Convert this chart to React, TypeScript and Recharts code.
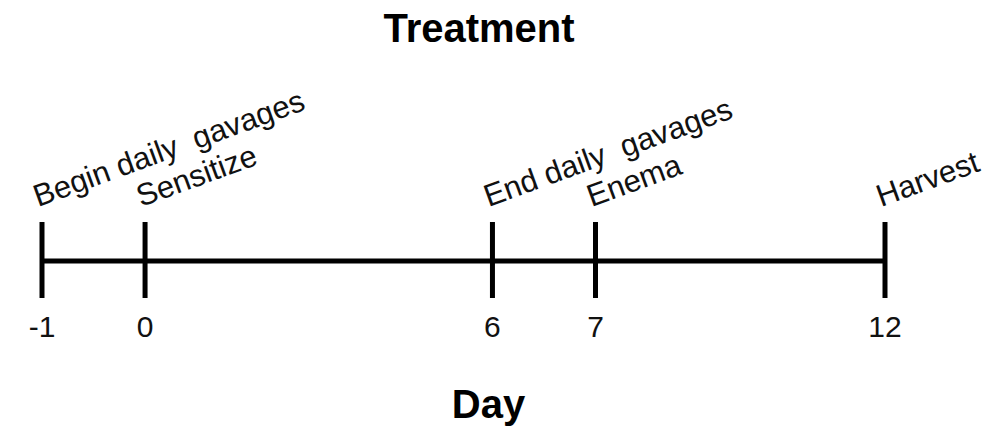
import React from 'react';
import { ComposedChart, Line, Scatter, XAxis, YAxis } from 'recharts';

// events on the treatment timeline
const eventDays = [-1, 0, 6, 7, 12];
const eventLabels = ['Begin daily  gavages', 'Sensitize', 'End daily  gavages', 'Enema', 'Harvest'];
const dayTicks = [-1, 0, 6, 7, 12];

const FONT = '"Liberation Sans", Arial, Helvetica, sans-serif';
// short intervals are stretched to this many days so labels have room
const MIN_GAP = 1.78;

const data = eventDays.map((day, i) => ({ day, y: 0, label: eventLabels[i] }));

// schematic time scale: piecewise linear between events, each interval at least MIN_GAP wide
function timelineScale(stops: number[]): any {
  const cum: number[] = [0];
  for (let i = 1; i < stops.length; i++) {
    cum.push(cum[i - 1] + Math.max(stops[i] - stops[i - 1], MIN_GAP));
  }
  const warp = (v: number) => {
    if (v <= stops[0]) return v - stops[0];
    for (let i = 1; i < stops.length; i++) {
      if (v <= stops[i]) {
        const a = stops[i - 1], b = stops[i];
        return cum[i - 1] + ((v - a) / (b - a)) * (cum[i] - cum[i - 1]);
      }
    }
    return cum[cum.length - 1] + (v - stops[stops.length - 1]);
  };
  let dom = [stops[0], stops[stops.length - 1]];
  let rng = [0, 1];
  const s: any = (v: number) => {
    const w0 = warp(dom[0]);
    const w1 = warp(dom[dom.length - 1]);
    const r0 = rng[0];
    const r1 = rng[rng.length - 1];
    return r0 + ((warp(v) - w0) / (w1 - w0)) * (r1 - r0);
  };
  s.domain = (d?: number[]) => {
    if (d === undefined) return dom.slice();
    dom = d.slice();
    return s;
  };
  s.range = (r?: number[]) => {
    if (r === undefined) return rng.slice();
    rng = r.slice();
    return s;
  };
  s.copy = () => timelineScale(stops).domain(dom).range(rng);
  s.ticks = () => stops.slice();
  s.tickFormat = () => (v: number) => String(v);
  return s;
}

const timeScale = timelineScale(eventDays);

const EventMark = (props: any) => {
  const { cx, cy, payload } = props;
  if (cx == null || cy == null) return null;
  const tx = cx - 4;
  const ty = cy - 54;
  return (
    <g>
      <line x1={cx} x2={cx} y1={cy - 39} y2={cy + 37} stroke="#000" strokeWidth={5} />
      <text
        x={tx}
        y={ty}
        transform={`rotate(-20, ${tx}, ${ty})`}
        fontSize={31}
        fontFamily={FONT}
        fill="#111"
        style={{ whiteSpace: 'pre' }}
      >
        {payload.label}
      </text>
    </g>
  );
};

const App: React.FC = () => {
  return (
    <div style={{ position: 'absolute', left: 0, top: 0, width: 994, height: 429, background: '#fff' }}>
      <ComposedChart
        width={994}
        height={429}
        data={data}
        margin={{ top: 222, right: 109, bottom: 11, left: 42 }}
      >
        <XAxis
          dataKey="day"
          type="number"
          domain={[-1, 12]}
          ticks={dayTicks}
          scale={timeScale}
          interval={0}
          axisLine={false}
          tickLine={false}
          tickSize={14}
          tickMargin={2}
          height={118}
          tick={{ fontSize: 30, fill: '#111', fontFamily: FONT }}
          label={{
            value: 'Day',
            position: 'insideBottom',
            offset: 0,
            dx: 25,
            style: { fontSize: 40, fontWeight: 'bold', fill: '#000', fontFamily: FONT },
          }}
        />
        <YAxis type="number" domain={[-1, 1]} hide />
        <Line dataKey="y" stroke="#000" strokeWidth={5} dot={false} activeDot={false} isAnimationActive={false} />
        <Scatter dataKey="y" shape={EventMark} isAnimationActive={false} />
        <text x={479} y={42} textAnchor="middle" fontSize={40} fontWeight="bold" fontFamily={FONT} fill="#000">
          Treatment
        </text>
      </ComposedChart>
    </div>
  );
};

export default App;
